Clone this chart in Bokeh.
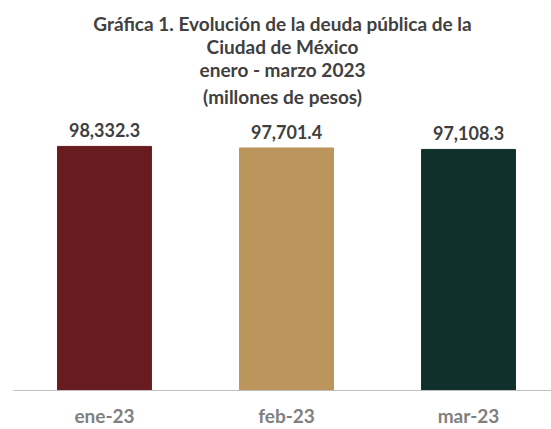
from bokeh.plotting import figure
from bokeh.models import ColumnDataSource, FixedTicker, Range1d, Title
from bokeh.core.properties import value
from bokeh.embed import file_html
from bokeh.resources import INLINE

categories = ["ene-23", "feb-23", "mar-23"]
values = [98332.3, 97701.4, 97108.3]
labels = ["98,332.3", "97,701.4", "97,108.3"]
colors = ["#691C20", "#BC955C", "#10312B"]
title_lines = [
    "Gráfica 1. Evolución de la deuda pública de la",
    "Ciudad de México",
    "enero - marzo 2023",
    "(millones de pesos)",
]

FONT = "Lato"
positions = list(range(len(categories)))
src = ColumnDataSource(dict(x=positions, top=values, label=labels, color=colors))

p = figure(width=551, height=429, output_backend="svg", toolbar_location=None,
           x_range=Range1d(-0.5, 2.456), y_range=Range1d(0, 112800),
           min_border_left=13, min_border_right=0, min_border_top=110, min_border_bottom=37)
p.title.visible = False

# later-added titles sit further from the plot, so add bottom line first
for i, line in enumerate(reversed(title_lines)):
    t = Title(text=line, align="center", text_font=FONT, text_line_height=1.0,
              text_font_size="19px", text_font_style="bold", text_color="#404040",
              standoff=6 if i == 0 else -2)
    p.add_layout(t, "above")

p.vbar(x="x", top="top", width=0.516, color="color", source=src)
p.text(x="x", y="top", text="label", source=src, text_align="center",
       text_baseline="alphabetic", y_offset=-16, text_font=value(FONT),
       text_font_size="18px", text_font_style="bold", text_color="#404040")

p.yaxis.visible = False
p.grid.visible = False
p.outline_line_color = None
p.xaxis.ticker = FixedTicker(ticks=positions)
p.xaxis.major_label_overrides = {i: c for i, c in enumerate(categories)}
p.xaxis.major_tick_line_color = None
p.xaxis.minor_tick_line_color = None
p.xaxis.axis_line_color = "#BFBFBF"
p.xaxis.major_label_standoff = 7
p.xaxis.major_label_text_font = FONT
p.xaxis.major_label_text_font_size = "19px"
p.xaxis.major_label_text_font_style = "bold"
p.xaxis.major_label_text_color = "#808080"

open("out.html", "w").write(file_html(p, INLINE))
